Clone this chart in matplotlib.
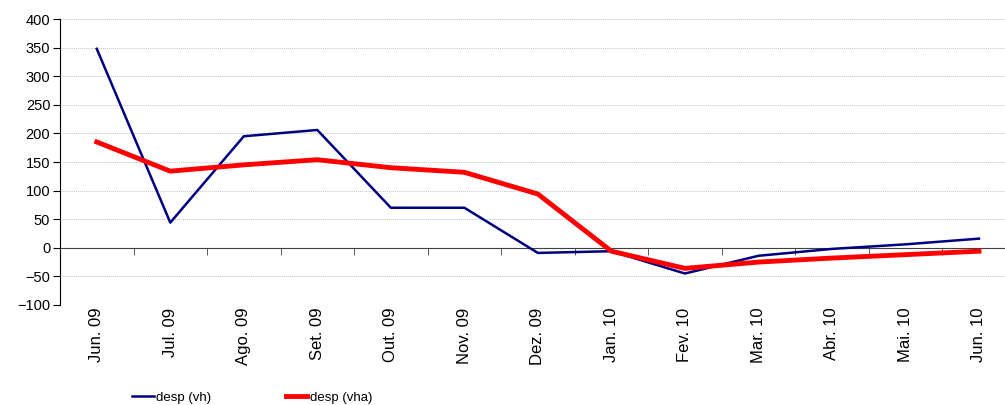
import matplotlib
matplotlib.use('Agg')
import matplotlib.pyplot as plt
import numpy as np

plt.rcParams['font.family'] = ['Liberation Sans', 'DejaVu Sans']

# dados
meses = ['Jun. 09', 'Jul. 09', 'Ago. 09', 'Set. 09', 'Out. 09', 'Nov. 09', 'Dez. 09',
         'Jan. 10', 'Fev. 10', 'Mar. 10', 'Abr. 10', 'Mai. 10', 'Jun. 10']
desp_vh = [348, 44, 195, 206, 70, 70, -9, -6, -45, -14, -2, 6, 16]
desp_vha = [185, 134, 145, 154, 140, 132, 94, -6, -36, -25, -18, -12, -6]

fig = plt.figure(figsize=(10.05, 4.05), dpi=100)
ax = fig.add_axes([0.0597, 0.247, 0.951, 0.706])

x = np.arange(len(meses))
ax.plot(x, desp_vh, color='#000080', linewidth=1.8, label='desp (vh)', zorder=3)
ax.plot(x, desp_vha, color='#FF0000', linewidth=3.5, label='desp (vha)', zorder=3)

ax.set_xlim(-0.5, len(meses) - 0.5)
ax.set_ylim(-100, 400)
ax.set_yticks(np.arange(-100, 401, 50))
ax.tick_params(axis='y', labelsize=10.5, length=5, pad=2, direction='out')

# eixo x no zero, marcas entre categorias
ax.spines['bottom'].set_position(('data', 0))
ax.spines['bottom'].set_color('#404040')
ax.spines['top'].set_visible(False)
ax.spines['right'].set_visible(False)
ax.set_xticks(x)
ax.set_xticklabels(meses, rotation=90, fontsize=12, va='top')
ax.set_xticks(np.arange(0.5, len(meses) - 1, 1), minor=True)
ax.tick_params(axis='x', which='major', length=0, pad=43)
ax.tick_params(axis='x', which='minor', length=5, direction='out', color='#404040')

ax.grid(axis='y', color='#c4c4c4', linestyle=(0, (1, 1)), linewidth=0.7)
ax.set_axisbelow(True)

fig.legend(loc='center', bbox_to_anchor=(0.251, 0.018), ncol=2, frameon=False,
           fontsize=9.5, handlelength=1.6, handletextpad=0.2, columnspacing=5.65)

fig.savefig('out.png', dpi=100, facecolor='white')
